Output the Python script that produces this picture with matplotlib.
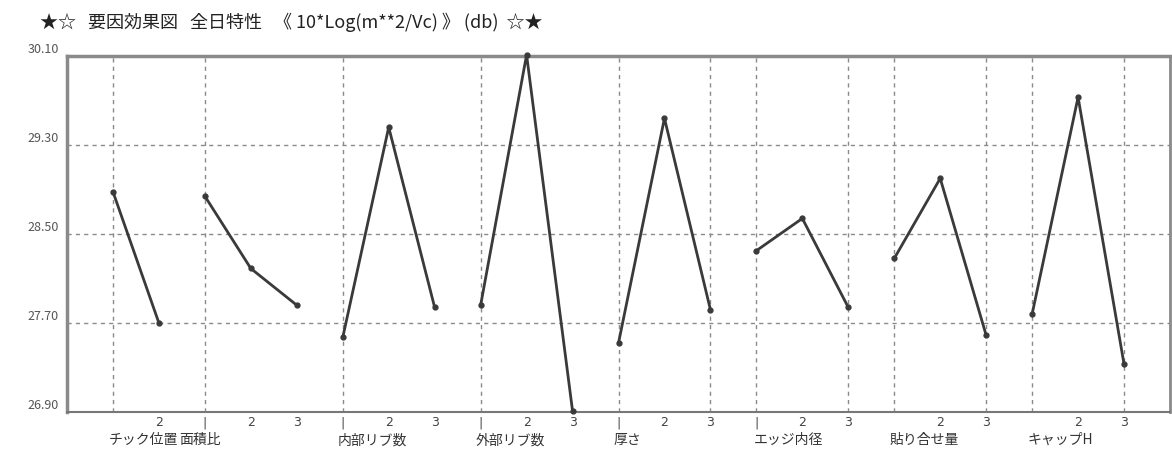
import numpy as np
import matplotlib
matplotlib.use('Agg')
import matplotlib.pyplot as plt

plt.rcParams['font.family'] = ['Noto Sans CJK JP', 'DejaVu Sans']

# Data (factor effects, db)
factors = ['チック位置', '面積比', '内部リブ数', '外部リブ数', '厚さ', 'エッジ内径', '貼り合せ量', 'キャップH']
levels = [2, 3, 3, 3, 3, 3, 3, 3]
effects = [
    [28.88, 27.70],
    [28.84, 28.19, 27.86],
    [27.57, 29.46, 27.84],
    [27.86, 30.11, 26.91],
    [27.52, 29.54, 27.82],
    [28.35, 28.64, 27.84],
    [28.28, 29.00, 27.59],
    [27.78, 29.73, 27.33],
]
level_labels = [
    ['', '2'],
    ['|', '2', '3'],
    ['|', '2', '3'],
    ['|', '2', '3'],
    ['|', '2', '3'],
    ['|', '2', '3'],
    ['', '2', '3'],
    ['', '2', '3'],
]
yticks = [26.90, 27.70, 28.50, 29.30, 30.10]
title = '★☆   要因効果図   全日特性   《 10*Log(m**2/Vc) 》 (db)  ☆★'

fig = plt.figure(figsize=(11.72, 4.57), dpi=100)
ax = fig.add_axes([67/1172, 45/457, 1103/1172, 356/457])

line_col = '#3a3a3a'
pos = 0
starts = []
vgrid = []
for i, vals in enumerate(effects):
    x = np.arange(pos, pos + levels[i])
    starts.append(pos)
    ax.plot(x, vals, color=line_col, lw=2.0, marker='o', ms=3.5,
            mec=line_col, mfc=line_col, zorder=3, clip_on=False)
    # level numbers under the axis
    for xi, lab in zip(x, level_labels[i]):
        ax.text(xi, yticks[0] - 0.04, lab, ha='center', va='top',
                fontsize=9, color='#444444', family='DejaVu Sans')
    # vertical grid lines
    if i < 4:
        vgrid.append(pos)
    else:
        vgrid += [pos, pos + levels[i] - 1]
    pos += levels[i]

for xv in vgrid:
    ax.axvline(xv, color='#8a8a8a', lw=1.0, ls=(0, (3, 3)), zorder=1)
for yv in yticks[1:-1]:
    ax.axhline(yv, color='#8a8a8a', lw=1.0, ls=(0, (3, 3)), zorder=1)

# factor names
name_offset = [-0.1, -0.55, -0.12, -0.1, -0.1, -0.05, -0.1, -0.1]
for s, name, off in zip(starts, factors, name_offset):
    ax.text(s + off, yticks[0] - 0.19, name, ha='left', va='top',
            fontsize=10, color='#333333')

ax.set_xlim(-1, 23)
ax.set_ylim(yticks[0], yticks[-1])
ax.set_xticks([])
ax.set_yticks(yticks)
ax.set_yticklabels([f'{v:.2f}' for v in yticks], fontsize=9, color='#555555')
ax.tick_params(axis='y', length=0, pad=6)
for lab in ax.get_yticklabels():
    lab.set_verticalalignment('bottom')

ax.spines['top'].set_color('#8a8a8a')
ax.spines['top'].set_linewidth(2.5)
ax.spines['left'].set_color('#8a8a8a')
ax.spines['left'].set_linewidth(2.5)
ax.spines['right'].set_color('#8a8a8a')
ax.spines['right'].set_linewidth(2.0)
ax.spines['bottom'].set_color('#777777')
ax.spines['bottom'].set_linewidth(1.5)

fig.text(40/1172, 1 - 22/457, title, ha='left', va='center', fontsize=13, color='#222222')

fig.savefig('out.png', dpi=100, facecolor='white')
